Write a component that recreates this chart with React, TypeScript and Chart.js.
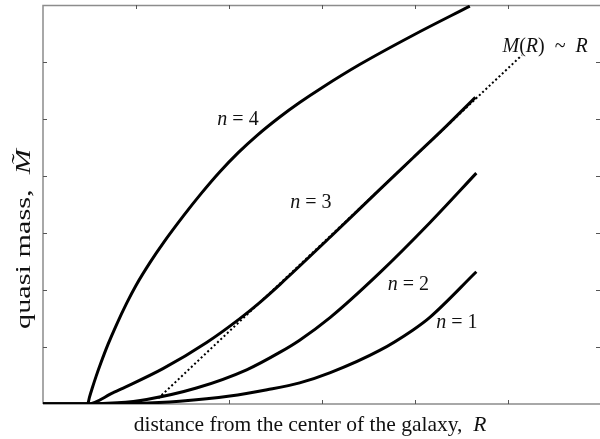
import React, { useEffect, useRef } from "react";
import { Chart, registerables } from "chart.js";

Chart.register(...registerables);

// distance R (x) and quasi mass (y) for each curve
const n4R = [0, 0.48, 0.5, 0.53, 0.57, 0.62, 0.7, 0.79, 0.9, 1.0, 1.15, 1.3, 1.51, 1.7, 1.9, 2.1, 2.3, 2.55, 2.76, 3.0, 3.41, 3.98, 4.59];
const n4M = [0, 0, 0.12, 0.28, 0.48, 0.71, 1.05, 1.39, 1.77, 2.08, 2.48, 2.84, 3.3, 3.69, 4.07, 4.41, 4.71, 5.04, 5.29, 5.55, 5.96, 6.47, 6.98];

const n3R = [0, 0.48, 0.756, 0.863, 1.29, 1.76, 2.11, 2.33, 2.55, 3.09, 3.62, 3.98, 4.34, 4.65];
const n3M = [0, 0, 0.2, 0.28, 0.62, 1.08, 1.49, 1.78, 2.1, 2.93, 3.76, 4.32, 4.88, 5.38];

const n2R = [0, 0.48, 0.8, 1.115, 1.65, 2.19, 2.55, 2.76, 3.09, 3.62, 4.16, 4.66];
const n2M = [0, 0, 0.02, 0.08, 0.28, 0.6, 0.91, 1.12, 1.52, 2.3, 3.18, 4.05];

const n1R = [0, 0.48, 1.0, 1.47, 2.01, 2.41, 2.76, 3.09, 3.62, 3.98, 4.16, 4.66];
const n1M = [0, 0, 0.01, 0.05, 0.14, 0.25, 0.37, 0.55, 0.94, 1.3, 1.52, 2.32];

const linR = [1.24, 5.15];
const linM = [0.1, 6.12];

const xTicks = [1, 2, 3, 4, 5];
const yTicks = [1, 2, 3, 4, 5, 6];

const xTitle = "distance from the center of the galaxy,";
const xTitleVar = "R";
const yTitle = "quasi mass,";
const yTitleVar = "M\u0303";

type Part = { t: string; i?: boolean };
const curveLabels: { parts: Part[]; r: number; m: number }[] = [
  { parts: [{ t: "n", i: true }, { t: " = 4" }], r: 2.097, m: 4.98 },
  { parts: [{ t: "n", i: true }, { t: " = 3" }], r: 2.88, m: 3.53 },
  { parts: [{ t: "n", i: true }, { t: " = 2" }], r: 3.93, m: 2.09 },
  { parts: [{ t: "n", i: true }, { t: " = 1" }], r: 4.45, m: 1.42 },
  {
    parts: [
      { t: "M", i: true },
      { t: "(" },
      { t: "R", i: true },
      { t: ")  ~  " },
      { t: "R", i: true },
    ],
    r: 5.4,
    m: 6.27,
  },
];

const pts = (xs: number[], ys: number[]) => xs.map((x, k) => ({ x, y: ys[k] }));

const FONT = "'Liberation Serif', 'Times New Roman', serif";

function measureRich(ctx: CanvasRenderingContext2D, parts: Part[], size: number) {
  return parts.map((p) => {
    ctx.font = `${p.i ? "italic " : ""}${size}px ${FONT}`;
    return ctx.measureText(p.t).width;
  });
}

function drawRich(ctx: CanvasRenderingContext2D, parts: Part[], cx: number, cy: number, size: number) {
  const widths = measureRich(ctx, parts, size);
  const total = widths.reduce((a, b) => a + b, 0);
  let x = cx - total / 2;
  ctx.textBaseline = "middle";
  ctx.textAlign = "left";
  parts.forEach((p, k) => {
    ctx.font = `${p.i ? "italic " : ""}${size}px ${FONT}`;
    ctx.fillText(p.t, x, cy);
    x += widths[k];
  });
}

const framePlugin = {
  id: "frame",
  beforeDatasetsDraw(chart: any) {
    const { ctx, chartArea: a, scales } = chart;
    const x = scales.x;
    const y = scales.y;
    ctx.save();
    ctx.strokeStyle = "#8c8c8c";
    ctx.lineWidth = 1.5;
    ctx.beginPath();
    ctx.moveTo(a.left, a.bottom);
    ctx.lineTo(a.left, a.top + 0.5);
    ctx.lineTo(a.right, a.top + 0.5);
    ctx.moveTo(a.left, a.bottom);
    ctx.lineTo(a.right, a.bottom);
    ctx.stroke();
    ctx.strokeStyle = "#555";
    ctx.lineWidth = 1;
    ctx.beginPath();
    xTicks.forEach((v) => {
      const px = Math.round(x.getPixelForValue(v)) + 0.5;
      ctx.moveTo(px, a.bottom);
      ctx.lineTo(px, a.bottom - 4);
      ctx.moveTo(px, a.top);
      ctx.lineTo(px, a.top + 4);
    });
    yTicks.forEach((v) => {
      const py = Math.round(y.getPixelForValue(v)) + 0.5;
      ctx.moveTo(a.left, py);
      ctx.lineTo(a.left + 4, py);
      ctx.moveTo(a.right, py);
      ctx.lineTo(a.right - 4, py);
    });
    ctx.stroke();
    ctx.restore();
  },
  afterDraw(chart: any) {
    const { ctx, scales } = chart;
    const x = scales.x;
    const y = scales.y;
    ctx.save();
    ctx.fillStyle = "#111";
    curveLabels.forEach((l) => {
      drawRich(ctx, l.parts, x.getPixelForValue(l.r), y.getPixelForValue(l.m), 20);
    });
    // x axis title
    drawRich(ctx, [{ t: xTitle + "  " }, { t: xTitleVar, i: true }], 310, 425, 21.5);
    // y axis title (stretched along its length like the reference)
    const yParts: Part[] = [{ t: yTitle + "  " }, { t: yTitleVar, i: true }];
    const w = measureRich(ctx, yParts, 21).reduce((a, b) => a + b, 0);
    const sx = 180 / w;
    ctx.translate(24, 239);
    ctx.rotate(-Math.PI / 2);
    ctx.scale(sx, 1);
    drawRich(ctx, yParts, 0, 0, 21);
    ctx.restore();
  },
};

export default function App() {
  const ref = useRef<HTMLCanvasElement | null>(null);
  useEffect(() => {
    if (!ref.current) return;
    const line = (data: any, dashed = false) => ({
      data,
      borderColor: "#000",
      borderWidth: dashed ? 2 : 3,
      borderDash: dashed ? [2, 2.5] : [],
      pointRadius: 0,
      fill: false,
      cubicInterpolationMode: "monotone" as const,
    });
    const chart = new Chart(ref.current, {
      type: "line",
      data: {
        datasets: [
          line(pts(n4R, n4M)),
          line(pts(n3R, n3M)),
          line(pts(n2R, n2M)),
          line(pts(n1R, n1M)),
          line(pts(linR, linM), true),
        ],
      },
      options: {
        animation: false,
        responsive: false,
        maintainAspectRatio: false,
        layout: { padding: { left: 43, top: 5, right: 0, bottom: 35 } },
        plugins: { legend: { display: false }, tooltip: { enabled: false } },
        scales: {
          x: { type: "linear", min: 0, max: 5.99, display: false },
          y: { type: "linear", min: 0, max: 7, display: false },
        },
      },
      plugins: [framePlugin],
    });
    return () => chart.destroy();
  }, []);
  return (
    <div style={{ position: "absolute", left: 0, top: 0, width: 600, height: 439, background: "#fff" }}>
      <canvas ref={ref} width={600} height={439} style={{ display: "block" }} />
    </div>
  );
}
